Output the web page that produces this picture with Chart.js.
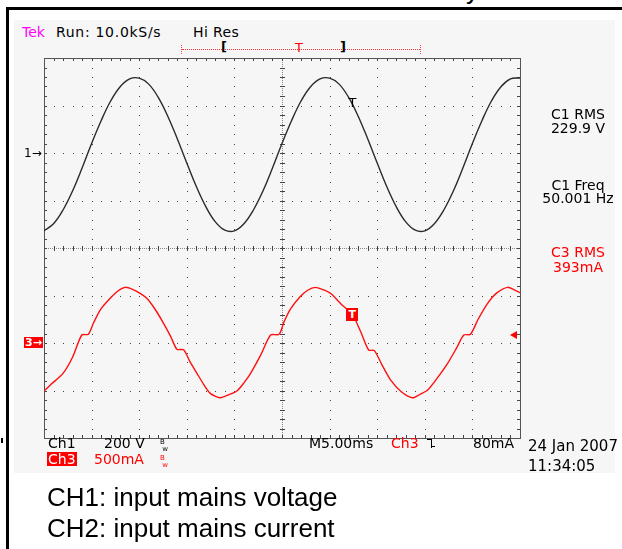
<!DOCTYPE html>
<html>
<head>
<meta charset="utf-8">
<script src="https://cdn.jsdelivr.net/npm/chart.js@4.4.1/dist/chart.umd.min.js"></script>
<style>
  body { margin: 0; background: #fff; }
  #page { position: relative; width: 622px; height: 549px; overflow: hidden; font-family: "DejaVu Sans", sans-serif; }
  #screen { position: absolute; left: 14px; top: 20px; width: 601px; height: 453px; background: #f6f6f6; }
  #scope { position: absolute; left: 0; top: 0; }
  .t { position: absolute; white-space: nowrap; font-size: 14px; line-height: 1; color: #000; }
  .red { color: #ff0000; }
  .c { width: 100px; text-align: center; left: 528px; }
  .bw { position: absolute; font-size: 7px; line-height: 1; }
  .cap { position: absolute; left: 47px; font-family: "Liberation Sans", Arial, sans-serif; font-size: 26px; line-height: 1; color: #000; white-space: nowrap; }
</style>
</head>
<body>
<div id="page">
  <div id="screen"></div>
  <div style="position:absolute;left:6px;top:7px;width:616px;height:3px;background:#000"></div>
  <div style="position:absolute;left:6px;top:7px;width:3px;height:542px;background:#000"></div>
  <div class="cap" style="left:466px;top:-23px">y</div>
  <div style="position:absolute;left:1px;top:438px;width:2px;height:5px;background:#000"></div>

  <div class="t" style="left:22px;top:25px;color:#ff00ff">Tek</div>
  <div class="t" style="left:56px;top:25px;letter-spacing:0.7px">Run: 10.0kS/s</div>
  <div class="t" style="left:193px;top:25px;letter-spacing:0.4px">Hi Res</div>

  <!-- record bar -->
  <div style="position:absolute;left:182px;top:49px;width:238px;border-top:1px dotted #ff3030"></div>
  <div style="position:absolute;left:181px;top:45px;width:0;height:9px;border-left:1px dotted #ff4040"></div>
  <div style="position:absolute;left:420px;top:45px;width:0;height:9px;border-left:1px dotted #ff4040"></div>
  <div class="t" style="left:221px;top:40px;font-size:13px;font-weight:bold">[</div>
  <div class="t red" style="left:295px;top:41px;font-size:13px">T</div>
  <div class="t" style="left:340px;top:40px;font-size:13px;font-weight:bold">]</div>

  <canvas id="scope" width="622" height="549"></canvas>

  <!-- measurements -->
  <div class="t c" style="top:107px">C1 RMS</div>
  <div class="t c" style="top:121px">229.9 V</div>
  <div class="t c" style="top:178px">C1 Freq</div>
  <div class="t c" style="top:191px">50.001 Hz</div>
  <div class="t c red" style="top:245px">C3 RMS</div>
  <div class="t c red" style="top:260px">393mA</div>

  <!-- channel / markers placed from the scales -->
  <div id="m1" class="t" style="left:24px;font-size:12px">1&#8594;</div>
  <div id="m3" class="t" style="left:24px;font-size:11px;background:#ff0000;color:#fff;padding:0 1px;font-weight:bold">3&#8594;</div>
  <div id="trigArrow" style="position:absolute;left:510px;width:0;height:0;border-top:4px solid transparent;border-bottom:4px solid transparent;border-right:7px solid #ff0000"></div>
  <div id="tV" class="t" style="font-size:13px">T</div>
  <div id="tI" class="t" style="font-size:11px;background:#ff0000;color:#fff;padding:1px 2px;font-weight:bold">T</div>

  <!-- readout -->
  <div class="t" style="left:48px;top:436px">Ch1</div>
  <div class="t" style="left:104px;top:436px">200 V</div>
  <div class="bw" style="left:160px;top:439px">B<br>&nbsp;w</div>
  <div class="t" style="left:47px;top:452px;background:#ff0000;color:#fff;padding:0 1px">Ch3</div>
  <div class="t red" style="left:94px;top:452px">500mA</div>
  <div class="bw red" style="left:160px;top:455px">B<br>&nbsp;w</div>
  <div class="t" style="left:309px;top:436px">M5.00ms</div>
  <div class="t red" style="left:391px;top:436px">Ch3</div>
  <div style="position:absolute;left:427px;top:439px;width:4px;height:8px;border-top:1.5px solid #000;border-right:1.5px solid #000"></div>
  <div style="position:absolute;left:432px;top:446px;width:3px;height:0;border-top:1.5px solid #000"></div>
  <div class="t" style="left:473px;top:436px">80mA</div>
  <div class="t" style="left:528px;top:439px;font-size:15px">24 Jan 2007</div>
  <div class="t" style="left:528px;top:459px;font-size:15px">11:34:05</div>

  <div class="cap" style="top:484px">CH1: input mains voltage</div>
  <div class="cap" style="top:515px">CH2: input mains current</div>
</div>

<script>
// horizontal 5.00 ms/div, 10 divisions
const msPerDiv = 5;
const voltsPerDiv = 200;
const mAPerDiv = 500;

// CH1 mains voltage (V), sampled every 1 ms
const timeMs = [0, 1, 2, 3, 4, 5, 6, 7, 8, 9, 10, 11, 12, 13, 14, 15, 16, 17, 18, 19, 20,
  21, 22, 23, 24, 25, 26, 27, 28, 29, 30, 31, 32, 33, 34, 35, 36, 37, 38, 39, 40,
  41, 42, 43, 44, 45, 46, 47, 48, 49, 50];
const ch1Volts = [-327, -298, -240, -160, -63, 40, 136, 219, 279, 312, 315, 290, 234, 155, 60, -42, -141, -226, -290, -325, -328,
  -298, -240, -160, -63, 40, 136, 219, 279, 312, 315, 290, 234, 155, 60, -42, -141, -226, -290, -325, -328,
  -298, -240, -160, -63, 40, 136, 219, 279, 312, 316];

// CH3 mains current (mA)
const ch3Time = [0, 0.8, 2.0, 3.0, 3.97, 4.66, 5.2, 5.9, 6.95, 7.8, 8.53, 9.3, 10.1, 10.8, 11.7, 12.56, 13.3, 13.96, 14.67,
  15.3, 16.07, 16.8, 17.47, 18.5, 19.4, 20.3, 21.0, 21.7, 22.8, 23.8, 24.7, 25.2, 25.9, 26.9, 27.7, 28.5, 29.3,
  30.1, 31.3, 32.0, 32.5, 33.3, 34.1, 34.7, 35.5, 36.4, 37.5, 38.7, 39.5, 40.3, 41.3, 42.4, 43.3, 44.1, 44.8,
  45.6, 46.6, 47.6, 48.7, 49.4, 50.0];
const ch3mA = [-505, -430, -320, -150, 84, 92, 210, 347, 470, 550, 586, 565, 523, 470, 350, 207, 70, -66, -72,
  -190, -319, -440, -530, -576, -545, -502, -420, -319, -120, 84, 92, 220, 360, 487, 555, 586, 562,
  523, 400, 340, 284, 110, -74, -80, -230, -389, -510, -576, -540, -495, -370, -214, -60, 84, 92,
  250, 418, 530, 586, 560, 530];

// trigger: Ch3 falling edge at 80 mA
const triggerMs = 32.4;
const triggerMa = 80;
const triggerPointV = 216;
const triggerPointMa = 290;

const graticule = {
  id: "graticule",
  beforeDatasetsDraw(chart) {
    const { ctx, chartArea: a, scales } = chart;
    const xs = scales.x, ys = scales.y;
    const xMinor = [], xMajor = [], yMinor = [], yMajor = [];
    for (let t = 0; t <= 50; t += msPerDiv / 5) xMinor.push(Math.round(xs.getPixelForValue(t)));
    for (let t = msPerDiv; t < 50; t += msPerDiv) xMajor.push(Math.round(xs.getPixelForValue(t)));
    for (let v = -1200; v <= 400; v += voltsPerDiv / 5) yMinor.push(Math.round(ys.getPixelForValue(v)));
    for (let v = -1200 + voltsPerDiv; v < 400; v += voltsPerDiv) yMajor.push(Math.round(ys.getPixelForValue(v)));
    const cx = Math.round(xs.getPixelForValue(25));
    const cy = Math.round(ys.getPixelForValue(-400));
    ctx.save();
    // dotted major lines
    ctx.fillStyle = "#444";
    xMajor.forEach((px) => { if (px !== cx) yMinor.forEach((py) => ctx.fillRect(px, py, 1, 1)); });
    yMajor.forEach((py) => { if (py !== cy) xMinor.forEach((px) => ctx.fillRect(px, py, 1, 1)); });
    // centre cross
    ctx.fillStyle = "#888";
    for (let px = a.left; px < a.right; px += 2) ctx.fillRect(px, cy, 1, 1);
    for (let py = a.top; py < a.bottom; py += 2) ctx.fillRect(cx, py, 1, 1);
    ctx.fillStyle = "#444";
    xMinor.forEach((px) => ctx.fillRect(px, cy - 2, 1, 5));
    yMinor.forEach((py) => ctx.fillRect(cx - 2, py, 5, 1));
    // border ticks
    xMinor.forEach((px) => { ctx.fillRect(px, a.top, 1, 3); ctx.fillRect(px, a.bottom - 3, 1, 3); });
    yMinor.forEach((py) => { ctx.fillRect(a.left, py, 3, 1); ctx.fillRect(a.right - 3, py, 3, 1); });
    ctx.strokeStyle = "#555";
    ctx.lineWidth = 1;
    ctx.strokeRect(Math.round(a.left) + 0.5, Math.round(a.top) + 0.5, Math.round(a.right - a.left), Math.round(a.bottom - a.top));
    ctx.restore();
  },
};

const chart = new Chart(document.getElementById("scope"), {
  type: "line",
  data: {
    datasets: [
      {
        label: "CH1",
        data: timeMs.map((t, i) => ({ x: t, y: ch1Volts[i] })),
        yAxisID: "y",
        borderColor: "#2b2b2b",
        borderWidth: 1.4,
        pointRadius: 0,
        tension: 0.4,
      },
      {
        label: "CH3",
        data: ch3Time.map((t, i) => ({ x: t, y: ch3mA[i] })),
        yAxisID: "y3",
        borderColor: "#ff1010",
        borderWidth: 1.4,
        pointRadius: 0,
        tension: 0.25,
      },
    ],
  },
  options: {
    responsive: false,
    animation: false,
    events: [],
    layout: { padding: { left: 44, top: 58, right: 102, bottom: 111 } },
    plugins: { legend: { display: false }, tooltip: { enabled: false } },
    scales: {
      x: { type: "linear", min: 0, max: 10 * msPerDiv, display: false },
      y: { min: -6 * voltsPerDiv, max: 2 * voltsPerDiv, display: false },
      y3: { min: -2 * mAPerDiv, max: 6 * mAPerDiv, display: false },
    },
  },
  plugins: [graticule],
});

// place ground / trigger markers from the scales
const sx = chart.scales.x, sy = chart.scales.y, sy3 = chart.scales.y3;
document.getElementById("m1").style.top = (sy.getPixelForValue(0) - 6) + "px";
document.getElementById("m3").style.top = (sy3.getPixelForValue(0) - 6) + "px";
document.getElementById("trigArrow").style.top = (sy3.getPixelForValue(triggerMa) - 4) + "px";
const tV = document.getElementById("tV");
tV.style.left = (sx.getPixelForValue(triggerMs) - 4) + "px";
tV.style.top = (sy.getPixelForValue(triggerPointV) - 6) + "px";
const tI = document.getElementById("tI");
tI.style.left = (sx.getPixelForValue(triggerMs) - 6) + "px";
tI.style.top = (sy3.getPixelForValue(triggerPointMa) - 7) + "px";
</script>
</body>
</html>
